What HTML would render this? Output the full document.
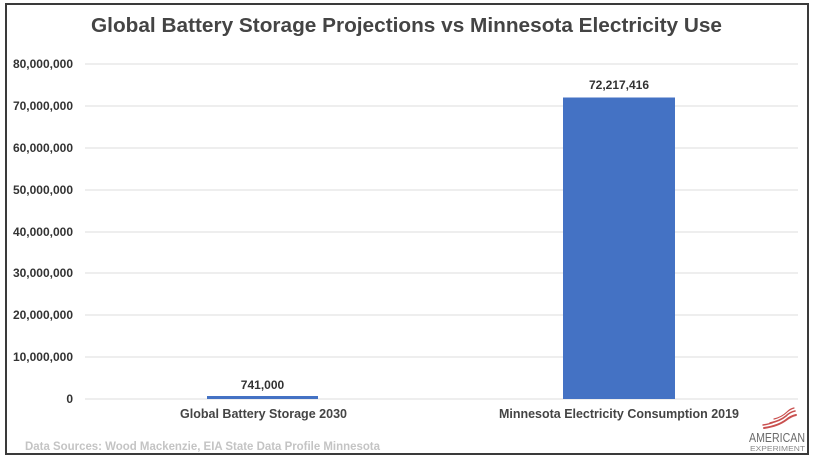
<!DOCTYPE html>
<html>
<head>
<meta charset="utf-8">
<style>
  html,body{margin:0;padding:0;background:#fff;}
  svg{display:block;}
  text{font-family:"Liberation Sans", Arial, sans-serif;}
</style>
</head>
<body>
<svg width="813" height="460" viewBox="0 0 813 460" xmlns="http://www.w3.org/2000/svg">
  <rect x="0" y="0" width="813" height="460" fill="#fff"/>
  <!-- frame -->
  <rect x="6" y="4" width="802" height="450" fill="none" stroke="#3a3a3a" stroke-width="2"/>

  <!-- title -->
  <text x="91" y="32" font-size="20" font-weight="bold" fill="#444" textLength="631" lengthAdjust="spacingAndGlyphs">Global Battery Storage Projections vs Minnesota Electricity Use</text>

  <!-- gridlines -->
  <g stroke="#e4e4e4" stroke-width="1.2">
    <line x1="85" y1="64" x2="798" y2="64"/>
    <line x1="85" y1="106" x2="798" y2="106"/>
    <line x1="85" y1="148" x2="798" y2="148"/>
    <line x1="85" y1="190" x2="798" y2="190"/>
    <line x1="85" y1="232" x2="798" y2="232"/>
    <line x1="85" y1="273" x2="798" y2="273"/>
    <line x1="85" y1="315" x2="798" y2="315"/>
    <line x1="85" y1="357" x2="798" y2="357"/>
    <line x1="85" y1="399" x2="798" y2="399"/>
  </g>

  <!-- y tick labels -->
  <g font-size="12" font-weight="bold" fill="#333" text-anchor="end">
    <text x="73" y="68">80,000,000</text>
    <text x="73" y="110">70,000,000</text>
    <text x="73" y="152">60,000,000</text>
    <text x="73" y="194">50,000,000</text>
    <text x="73" y="236">40,000,000</text>
    <text x="73" y="277">30,000,000</text>
    <text x="73" y="319">20,000,000</text>
    <text x="73" y="361">10,000,000</text>
    <text x="73" y="403">0</text>
  </g>

  <!-- bars -->
  <rect x="207" y="396" width="111" height="3" fill="#4472c4"/>
  <rect x="563" y="97.5" width="112" height="301.5" fill="#4472c4"/>

  <!-- value labels -->
  <g font-size="12" font-weight="bold" fill="#333" text-anchor="middle">
    <text x="262.5" y="389">741,000</text>
    <text x="619" y="89">72,217,416</text>
  </g>

  <!-- category labels -->
  <text x="180" y="418" font-size="13" font-weight="bold" fill="#444" textLength="167" lengthAdjust="spacingAndGlyphs">Global Battery Storage 2030</text>
  <text x="499" y="418" font-size="13" font-weight="bold" fill="#444" textLength="240" lengthAdjust="spacingAndGlyphs">Minnesota Electricity Consumption 2019</text>

  <!-- data sources -->
  <text x="25" y="450" font-size="11.5" font-weight="bold" fill="#c4c4c4" textLength="355" lengthAdjust="spacingAndGlyphs">Data Sources: Wood Mackenzie, EIA State Data Profile Minnesota</text>

  <!-- logo -->
  <g fill="none" stroke="#c9504f" stroke-linecap="round">
    <path d="M764 428 Q778 426 786 420 Q791 416 796 415" stroke-width="2"/>
    <path d="M770 423 Q780 421 786 416 Q790 412 795 411" stroke-width="1.6"/>
    <path d="M774 419 Q782 417 787 412 Q790 409 794 408" stroke-width="1.2"/>
    <path d="M763 425 Q770 424 774 422" stroke-width="1.4"/>
  </g>
  <text x="749" y="442" font-size="12.5" fill="#6b6b6b" textLength="56" lengthAdjust="spacingAndGlyphs">AMERICAN</text>
  <text x="750" y="451" font-size="7.5" fill="#8a8a8a" textLength="55" lengthAdjust="spacingAndGlyphs">EXPERIMENT</text>
</svg>
</body>
</html>
